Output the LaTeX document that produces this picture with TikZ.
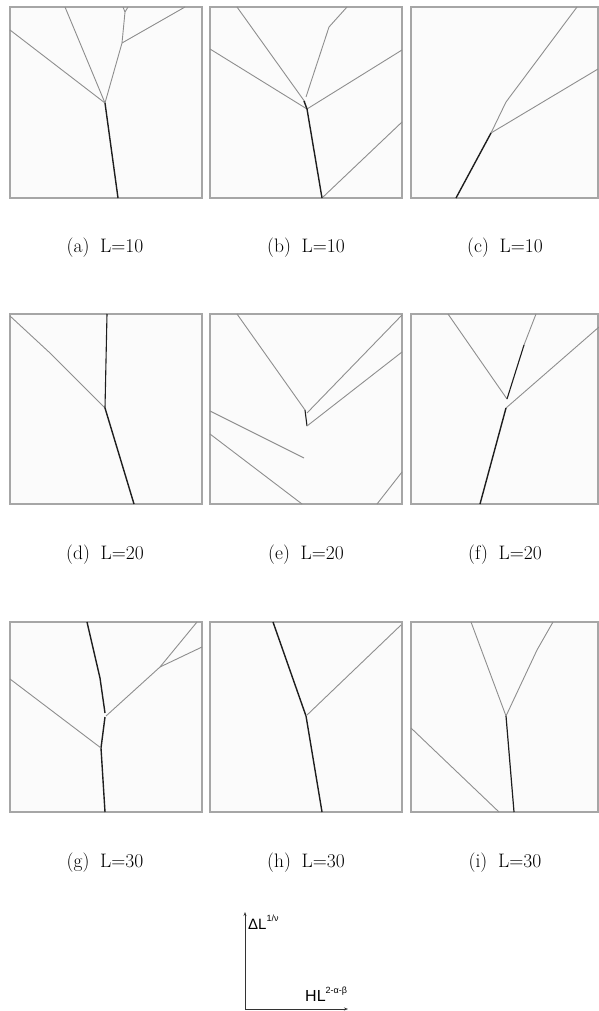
\documentclass[tikz,border=0pt]{standalone}
\usepackage{fontspec}
\newfontfamily\axfont{Liberation Sans}
\usetikzlibrary{arrows.meta}
\definecolor{boxline}{HTML}{A6A6A6}
\definecolor{boxfill}{HTML}{FBFBFB}
\definecolor{thin}{HTML}{8E8E8E}
\definecolor{thick}{HTML}{1E1E1E}
\tikzset{
  panel/.style={draw=boxline, fill=boxfill, line width=1.1pt},
  gcrack/.style={draw=thin, line width=0.9pt, line join=round},
  dcrack/.style={draw=thick, line width=1.4pt, line join=round},
  caption/.style={anchor=base, inner sep=0pt, font=\fontsize{19.5}{22}\selectfont},
  axis/.style={draw=black!80, line width=0.7pt, -{Stealth[length=4pt,width=3pt]}},
  axlabel/.style={anchor=base west, inner sep=0pt, font=\axfont\fontsize{15}{17}\selectfont}
}
\begin{document}
\begin{tikzpicture}[x=1pt,y=-1pt]
\useasboundingbox (0,0) rectangle (599,1011);
% panels
\path[panel] (10,7) rectangle (202,198);
\path[panel] (210,7) rectangle (402,198);
\path[panel] (411,7) rectangle (598,198);
\path[panel] (10,314) rectangle (202,504);
\path[panel] (210,314) rectangle (402,504);
\path[panel] (411,314) rectangle (598,504);
\path[panel] (10,622) rectangle (202,812);
\path[panel] (210,622) rectangle (402,812);
\path[panel] (411,622) rectangle (598,812);
% (a)
\draw[gcrack] (10,30) -- (105,103);
\draw[gcrack] (65,7) -- (105,103);
\draw[gcrack] (105,103) -- (122,43) -- (125,12) -- (123,7);
\draw[gcrack] (125,12) -- (128,7);
\draw[gcrack] (122,43) -- (185,7);
\draw[dcrack] (105,103) -- (118,198);
% (b)
\draw[gcrack] (210,49) -- (307,109);
\draw[gcrack] (237,7) -- (305,102);
\draw[gcrack] (306,97) -- (329,27) -- (347,7);
\draw[gcrack] (307,109) -- (402,50);
\draw[gcrack] (322,198) -- (402,122);
\draw[dcrack] (304,101) -- (307,109) -- (322,198);
% (c)
\draw[gcrack] (491,133) -- (506,102) -- (577,7);
\draw[gcrack] (491,133) -- (598,69);
\draw[dcrack] (456,198) -- (491,133);
% (d)
\draw[gcrack] (10,316) -- (50,353) -- (105,408);
\draw[dcrack, line width=1.1pt] (105,408) -- (107,314);
\draw[dcrack] (105,408) -- (134,504);
% (e)
\draw[gcrack] (237,314) -- (305,410);
\draw[dcrack, line width=1.1pt] (305,410) -- (307,426);
\draw[gcrack] (307,413) -- (402,315);
\draw[gcrack] (307,426) -- (402,352);
\draw[gcrack] (210,411) -- (304,458);
\draw[gcrack] (210,434) -- (302,504);
\draw[gcrack] (377,504) -- (402,472);
% (f)
\draw[gcrack] (448,314) -- (507,399);
\draw[gcrack] (536,314) -- (524,345);
\draw[dcrack, line width=1.1pt] (524,345) -- (507,399);
\draw[gcrack] (506,408) -- (599,327);
\draw[dcrack] (506,408) -- (480,504);
% (g)
\draw[dcrack] (87,622) -- (100,678) -- (105,713);
\draw[dcrack] (105,717) -- (101,748) -- (105,812);
\draw[gcrack] (10,679) -- (101,748);
\draw[gcrack] (106,716) -- (160,667) -- (197,622);
\draw[gcrack] (160,667) -- (202,647);
% (h)
\draw[dcrack] (273,622) -- (306,716) -- (322,812);
\draw[gcrack] (306,716) -- (401,625);
% (i)
\draw[gcrack] (471,622) -- (506,716);
\draw[gcrack] (553,622) -- (537,650) -- (506,716);
\draw[dcrack, line width=1.2pt] (506,716) -- (514,812);
\draw[gcrack] (411,728) -- (499,812);
% captions
\node[caption] (ca) at (105,252) {(a)\hspace{0.55em}L=10};
\node[caption] (cb) at (306,252) {(b)\hspace{0.55em}L=10};
\node[caption] (cc) at (505,252) {(c)\hspace{0.55em}L=10};
\node[caption] (cd) at (105,559) {(d)\hspace{0.55em}L=20};
\node[caption] (ce) at (306,559) {(e)\hspace{0.55em}L=20};
\node[caption] (cf) at (505,559) {(f)\hspace{0.55em}L=20};
\node[caption] (cg) at (105,867) {(g)\hspace{0.55em}L=30};
\node[caption] (ch) at (306,867) {(h)\hspace{0.55em}L=30};
\node[caption] (ci) at (505,867) {(i)\hspace{0.55em}L=30};
% axes
\coordinate (o) at (245,1009);
\coordinate (ytop) at (245,912);
\coordinate (xend) at (348,1009);
\draw[axis] (o) -- (ytop);
\draw[axis] (o) -- (xend);
\node[axlabel] (ylab) at (248,929) {ΔL\raisebox{0.5em}{\fontsize{9}{10}\selectfont 1/ν}};
\node[axlabel, font=\axfont\fontsize{16}{18}\selectfont] (xlab) at (305,1001) {HL\raisebox{0.5em}{\fontsize{9}{10}\selectfont 2-α-β}};
\end{tikzpicture}
\end{document}
